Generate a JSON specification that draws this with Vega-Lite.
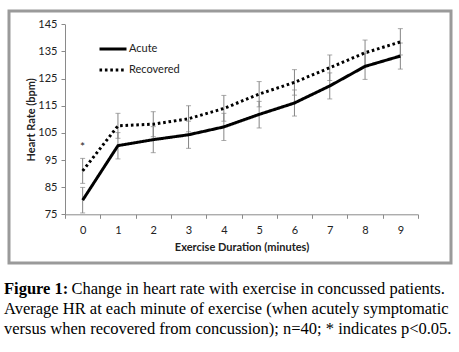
{
  "$schema": "https://vega.github.io/schema/vega-lite/v6.json",
  "width": 442,
  "height": 252,
  "autosize": {"type": "none"},
  "padding": {"left": 9, "top": 11, "right": 8, "bottom": 89},
  "background": "white",
  "config": {
    "view": {"stroke": "#9a9a9a", "strokeWidth": 3, "fill": "white"},
    "font": "Lato",
    "axis": {
      "domainColor": "#8a8a8a",
      "tickColor": "#8a8a8a",
      "labelColor": "#222222",
      "labelFont": "Lato",
      "labelFontSize": 11,
      "titleFont": "Lato",
      "titleFontSize": 11,
      "titleFontWeight": "bold",
      "titleColor": "#222222",
      "grid": false,
      "tickSize": 4,
      "labelOverlap": false
    }
  },
  "datasets": {
    "hr": [
      {"min": 0, "group": "Acute", "hr": 80.2, "lo": 75.5, "hi": 84.9},
      {"min": 1, "group": "Acute", "hr": 100.3, "lo": 95.4, "hi": 105.1},
      {"min": 2, "group": "Acute", "hr": 102.5, "lo": 97.7, "hi": 107.3},
      {"min": 3, "group": "Acute", "hr": 104.3, "lo": 99.3, "hi": 109.3},
      {"min": 4, "group": "Acute", "hr": 107.2, "lo": 102.2, "hi": 112.2},
      {"min": 5, "group": "Acute", "hr": 111.8, "lo": 106.8, "hi": 116.6},
      {"min": 6, "group": "Acute", "hr": 116.0, "lo": 111.2, "hi": 120.8},
      {"min": 7, "group": "Acute", "hr": 122.3, "lo": 117.5, "hi": 127.1},
      {"min": 8, "group": "Acute", "hr": 129.5, "lo": 124.7, "hi": 134.3},
      {"min": 9, "group": "Acute", "hr": 133.3, "lo": 128.5, "hi": 138.1},
      {"min": 0, "group": "Recovered", "hr": 91.0, "lo": 86.4, "hi": 95.6},
      {"min": 1, "group": "Recovered", "hr": 107.6, "lo": 103.0, "hi": 112.2},
      {"min": 2, "group": "Recovered", "hr": 108.2, "lo": 103.6, "hi": 112.8},
      {"min": 3, "group": "Recovered", "hr": 110.2, "lo": 105.4, "hi": 115.0},
      {"min": 4, "group": "Recovered", "hr": 114.0, "lo": 109.3, "hi": 118.8},
      {"min": 5, "group": "Recovered", "hr": 119.3, "lo": 114.6, "hi": 123.9},
      {"min": 6, "group": "Recovered", "hr": 123.6, "lo": 118.9, "hi": 128.3},
      {"min": 7, "group": "Recovered", "hr": 129.0, "lo": 124.3, "hi": 133.7},
      {"min": 8, "group": "Recovered", "hr": 134.5, "lo": 129.8, "hi": 139.2},
      {"min": 9, "group": "Recovered", "hr": 138.5, "lo": 133.7, "hi": 143.4}
    ]
  },
  "layer": [
    {
      "data": {"name": "hr"},
      "mark": {"type": "rule", "color": "#858585", "strokeWidth": 1},
      "encoding": {
        "x": {"field": "min", "type": "ordinal", "bandPosition": 0.5,
              "scale": {"type": "band", "paddingInner": 0, "paddingOuter": 0, "range": [56, 409]},
              "axis": {"title": "Exercise Duration (minutes)", "labelAngle": 0, "tickBand": "extent", "labelPadding": 6, "titlePadding": 6, "offset": -48.7}},
        "y": {"field": "lo", "type": "quantitative",
              "scale": {"domain": [75, 145], "nice": false, "zero": false, "range": [203.3, 13.3]},
              "axis": {"title": "Heart Rate (bpm)", "values": [75, 85, 95, 105, 115, 125, 135, 145], "labelPadding": 4, "titlePadding": 1, "offset": -56}},
        "y2": {"field": "hi"}
      }
    },
    {
      "data": {"name": "hr"},
      "mark": {"type": "tick", "color": "#858585", "thickness": 1, "size": 5, "orient": "horizontal"},
      "encoding": {
        "x": {"field": "min", "type": "ordinal", "bandPosition": 0.5},
        "y": {"field": "lo", "type": "quantitative", "axis": {"title": "Heart Rate (bpm)", "values": [75, 85, 95, 105, 115, 125, 135, 145], "labelPadding": 4, "titlePadding": 1, "offset": -56}}
      }
    },
    {
      "data": {"name": "hr"},
      "mark": {"type": "tick", "color": "#858585", "thickness": 1, "size": 5, "orient": "horizontal"},
      "encoding": {
        "x": {"field": "min", "type": "ordinal", "bandPosition": 0.5},
        "y": {"field": "hi", "type": "quantitative", "axis": {"title": "Heart Rate (bpm)", "values": [75, 85, 95, 105, 115, 125, 135, 145], "labelPadding": 4, "titlePadding": 1, "offset": -56}}
      }
    },
    {
      "data": {"name": "hr"},
      "mark": {"type": "line", "color": "black", "strokeWidth": 3, "strokeCap": "butt"},
      "encoding": {
        "x": {"field": "min", "type": "ordinal", "bandPosition": 0.5},
        "y": {"field": "hr", "type": "quantitative", "axis": {"title": "Heart Rate (bpm)", "values": [75, 85, 95, 105, 115, 125, 135, 145], "labelPadding": 4, "titlePadding": 1, "offset": -56}},
        "strokeDash": {
          "field": "group", "type": "nominal",
          "scale": {"domain": ["Acute", "Recovered"], "range": [[1, 0], [2.6, 2.8]]},
          "legend": {
            "title": null, "orient": "none", "legendX": 89, "legendY": 23,
            "symbolType": "stroke", "symbolSize": 729, "symbolStrokeWidth": 3,
            "symbolStrokeColor": "black", "labelFont": "Lato", "labelFontSize": 11,
            "labelColor": "#222222", "labelOffset": 1, "rowPadding": -3, "padding": 0
          }
        }
      }
    },
    {
      "data": {"name": "hr"},
      "transform": [{"filter": "datum.group === 'Recovered' && datum.min === 0"}],
      "mark": {"type": "text", "text": "*", "fontSize": 12, "font": "Lato", "color": "#222222", "dy": -11, "baseline": "middle"},
      "encoding": {
        "x": {"field": "min", "type": "ordinal", "bandPosition": 0.5},
        "y": {"field": "hi", "type": "quantitative", "axis": {"title": "Heart Rate (bpm)", "values": [75, 85, 95, 105, 115, 125, 135, 145], "labelPadding": 4, "titlePadding": 1, "offset": -56}}
      }
    },
    {
      "data": {"values": [{"text": "Figure 1:"}]},
      "mark": {"type": "text", "font": "Liberation Serif", "fontSize": 16.5, "fontWeight": "bold", "align": "left", "baseline": "alphabetic", "color": "black"},
      "encoding": {"text": {"field": "text"}, "x": {"value": -5}, "y": {"value": 283}}
    },
    {
      "data": {"values": [{"text": "Change in heart rate with exercise in concussed patients."}]},
      "mark": {"type": "text", "font": "Liberation Serif", "fontSize": 16.5, "align": "left", "baseline": "alphabetic", "color": "black"},
      "encoding": {"text": {"field": "text"}, "x": {"value": 62.5}, "y": {"value": 283}}
    },
    {
      "data": {"values": [{"text": "Average HR at each minute of exercise (when acutely symptomatic"}]},
      "mark": {"type": "text", "font": "Liberation Serif", "fontSize": 16.5, "align": "left", "baseline": "alphabetic", "color": "black"},
      "encoding": {"text": {"field": "text"}, "x": {"value": -5}, "y": {"value": 303}}
    },
    {
      "data": {"values": [{"text": "versus when recovered from concussion); n=40; * indicates p<0.05."}]},
      "mark": {"type": "text", "font": "Liberation Serif", "fontSize": 16.5, "align": "left", "baseline": "alphabetic", "color": "black"},
      "encoding": {"text": {"field": "text"}, "x": {"value": -5}, "y": {"value": 323}}
    }
  ]
}
